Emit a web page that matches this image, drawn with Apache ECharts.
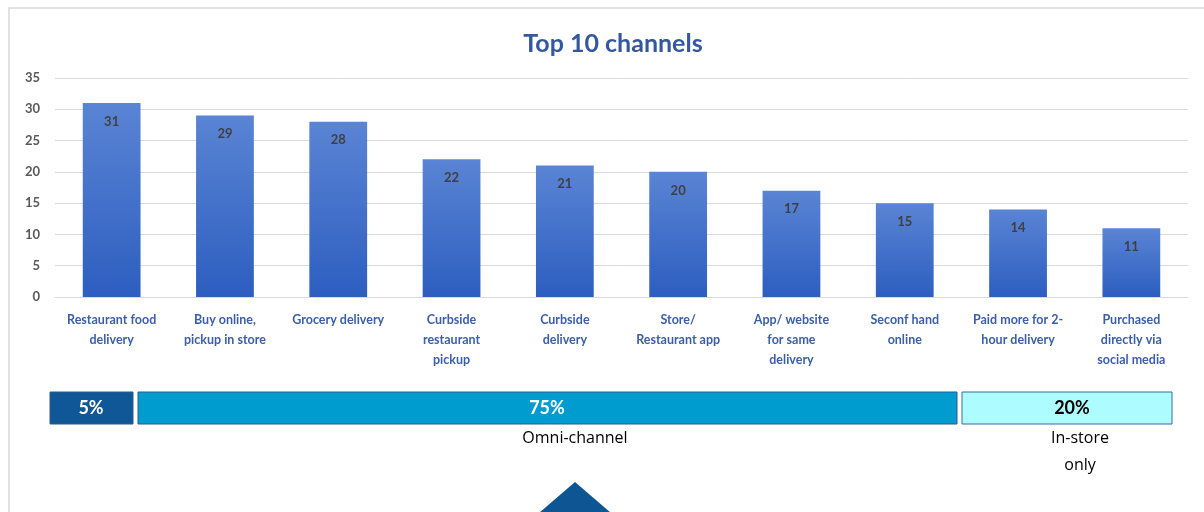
<!DOCTYPE html>
<html>
<head>
<meta charset="utf-8">
<script src="https://cdn.jsdelivr.net/npm/echarts@6/dist/echarts.min.js"></script>
<style>html,body{margin:0;padding:0;background:#fff}#c{width:1204px;height:512px}</style>
</head>
<body>
<div id="c"></div>
<script>
const categories = ['Restaurant food\ndelivery','Buy online,\npickup in store','Grocery delivery','Curbside\nrestaurant\npickup','Curbside\ndelivery','Store/\nRestaurant app','App/ website\nfor same\ndelivery','Seconf hand\nonline','Paid more for 2-\nhour delivery','Purchased\ndirectly via\nsocial media'];
const values = [31, 29, 28, 22, 21, 20, 17, 15, 14, 11];
const shareLabels = ['5%', '75%', '20%'];
const groupLabels = ['Omni-channel', 'In-store\nonly'];

const chart = echarts.init(document.getElementById('c'));
const font = 'Lato, "Open Sans", sans-serif';
chart.setOption({
  animation: false,
  title: {
    text: 'Top 10 channels', left: 608, top: 26, textAlign: 'center',
    textStyle: { fontFamily: font, fontSize: 25, fontWeight: 'bold', color: '#3358A0' }
  },
  grid: { left: 55, right: 16, top: 78, bottom: 215 },
  xAxis: {
    type: 'category', data: categories,
    axisLine: { lineStyle: { color: '#D9D9D9', width: 1 } },
    axisTick: { show: false },
    axisLabel: { interval: 0, margin: 13, lineHeight: 20, fontFamily: font, fontSize: 12.5, fontWeight: 'bold', color: '#3A5FA8' }
  },
  yAxis: {
    type: 'value', min: 0, max: 35, interval: 5,
    axisLine: { show: false }, axisTick: { show: false },
    splitLine: { lineStyle: { color: '#D9D9D9', width: 1 } },
    axisLabel: { margin: 15, fontFamily: font, fontSize: 13, fontWeight: 'bold', color: '#595959' }
  },
  series: [{
    type: 'bar', data: values, barWidth: '51%',
    itemStyle: { color: new echarts.graphic.LinearGradient(0, 0, 0, 1, [
      { offset: 0, color: '#5A84D4' }, { offset: 1, color: '#2D5EC0' }]) },
    label: { show: true, position: 'insideTop', distance: 12, fontFamily: font, fontSize: 13, fontWeight: 'bold', color: '#3F3F3F' }
  }],
  graphic: [
    { type: 'rect', silent: true, shape: { x: 9, y: 8, width: 1220, height: 530 }, style: { fill: 'none', stroke: '#D9D9D9', lineWidth: 1.5 }, z: -1 },
    { type: 'rect', shape: { x: 50, y: 392, width: 83, height: 32 }, style: { fill: '#0F5796', stroke: '#2E5A8E', lineWidth: 1 } },
    { type: 'text', x: 91, y: 408, style: { text: shareLabels[0], fill: '#fff', font: 'bold 18px ' + font, align: 'center', verticalAlign: 'middle' } },
    { type: 'rect', shape: { x: 138, y: 392, width: 819, height: 32 }, style: { fill: '#009CD0', stroke: '#2E5A8E', lineWidth: 1 } },
    { type: 'text', x: 547, y: 408, style: { text: shareLabels[1], fill: '#fff', font: 'bold 18px ' + font, align: 'center', verticalAlign: 'middle' } },
    { type: 'rect', shape: { x: 962, y: 392, width: 210, height: 32 }, style: { fill: '#ADFCFF', stroke: '#3B6BA3', lineWidth: 1 } },
    { type: 'text', x: 1072, y: 408, style: { text: shareLabels[2], fill: '#000', font: 'bold 18px ' + font, align: 'center', verticalAlign: 'middle' } },
    { type: 'text', x: 575, y: 438, style: { text: groupLabels[0], fill: '#000', font: '16px "Open Sans", sans-serif', align: 'center', verticalAlign: 'middle' } },
    { type: 'text', x: 1080, y: 425, style: { text: groupLabels[1], fill: '#000', font: '16px "Open Sans", sans-serif', align: 'center', verticalAlign: 'top', lineHeight: 27 } },
    { type: 'polygon', shape: { points: [[575, 482], [525, 525], [625, 525]] }, style: { fill: '#0E5594' } }
  ]
});
</script>
</body>
</html>
